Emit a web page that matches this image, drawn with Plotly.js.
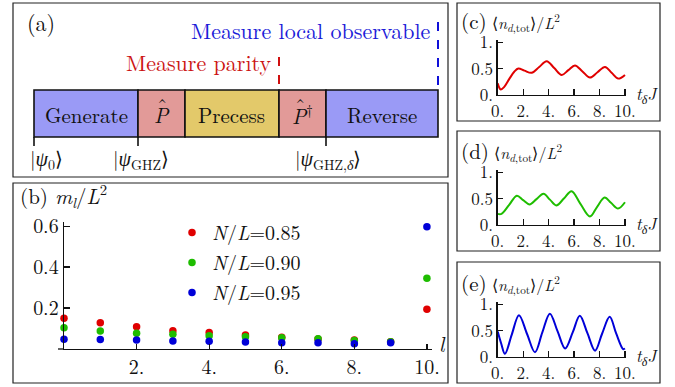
<!DOCTYPE html>
<html><head><meta charset="utf-8">
<script src="https://cdn.plot.ly/plotly-3.0.1.min.js"></script>
<style>body{margin:0;background:#fff}#c{width:675px;height:387px}</style>
</head><body><div id="c"></div>
<script>
// ---------- data ----------
const lValues = [0,1,2,3,4,5,6,7,8,9,10];
const m085 = [0.150,0.128,0.109,0.089,0.080,0.068,0.057,0.049,0.044,0.036,0.194];
const m090 = [0.104,0.088,0.077,0.072,0.065,0.060,0.055,0.050,0.042,0.036,0.345];
const m095 = [0.047,0.046,0.044,0.039,0.038,0.034,0.031,0.031,0.026,0.030,0.597];
const seriesNames = ['<i>N</i>/<i>L</i>=0.85','<i>N</i>/<i>L</i>=0.90','<i>N</i>/<i>L</i>=0.95'];
const bTickVals = [2,4,6,8,10];
const bTickText = ['2.','4.','6.','8.','10.'];
const bYTickVals = [0.2,0.4,0.6];
const bYTickText = ['0.2','0.4','0.6'];

const tC = [0,0.12,0.24,0.5,0.9,1.3,1.62,2.1,2.67,3.26,3.85,4.44,5.03,5.55,6.07,6.66,7.25,7.84,8.43,8.95,9.47,10];
const nC = [0.22,0.14,0.105,0.15,0.30,0.44,0.50,0.46,0.42,0.53,0.64,0.51,0.38,0.47,0.56,0.445,0.33,0.43,0.53,0.42,0.31,0.38];
const tD = [0,0.3,0.9,1.5,2.0,2.5,3.05,3.6,4.1,4.6,5.2,5.8,6.5,7.25,7.8,8.4,8.9,9.45,10];
const nD = [0.21,0.21,0.38,0.555,0.47,0.39,0.49,0.59,0.48,0.37,0.50,0.64,0.40,0.16,0.34,0.52,0.42,0.31,0.43];
const tE = [0,0.28,0.57,1.1,1.67,2.3,2.93,3.5,4.1,4.7,5.3,5.9,6.45,7.05,7.65,8.2,8.8,9.3,9.85,10];
const nE = [0.48,0.25,0.06,0.42,0.79,0.44,0.09,0.46,0.82,0.49,0.16,0.47,0.78,0.45,0.12,0.44,0.76,0.45,0.15,0.16];
const tTickVals = [0,2,4,6,8,10];
const tTickText = ['0.','2.','4.','6.','8.','10.'];
const nTickVals = [0,0.5,1];
const nTickText = ['0.','0.5','1.'];

const stageNames = ['Generate','<i>P</i>','Precess','<i>P</i><sup>†</sup>','Reverse'];
const stageHats = [false,true,false,true,false];
const stageColors = ['#9a9af6','#e29a98','#e3c96a','#e29a98','#9a9af6'];
const stateLabels = ['|<i>ψ</i><sub>0</sub>⟩','|<i>ψ</i><sub>GHZ</sub>⟩','|<i>ψ</i><sub>GHZ,<i>δ</i></sub>⟩'];

// ---------- layout helpers ----------
const W=675, H=387;
const px = x => x/W, py = y => 1 - y/H;
const FONT = 'Latin Modern Roman';
const RED='#e00000', GREEN='#1ebd00', BLUE='#0000d8';

const traces = [];
const cols=[RED,GREEN,BLUE], ms=[m085,m090,m095];
for(let i=0;i<3;i++){
  traces.push({x:lValues,y:ms[i],type:'scatter',mode:'markers',name:seriesNames[i],
    legendgroup:'g'+i, marker:{color:cols[i],size:7.5}, cliponaxis:false, xaxis:'x',yaxis:'y'});
}
traces.push({x:tC,y:nC,type:'scatter',mode:'lines',line:{color:RED,width:2,shape:'spline',smoothing:1},showlegend:false,xaxis:'x2',yaxis:'y2',cliponaxis:false});
traces.push({x:tD,y:nD,type:'scatter',mode:'lines',line:{color:GREEN,width:2,shape:'spline',smoothing:1},showlegend:false,xaxis:'x3',yaxis:'y3',cliponaxis:false});
traces.push({x:tE,y:nE,type:'scatter',mode:'lines',line:{color:BLUE,width:2,shape:'spline',smoothing:1},showlegend:false,xaxis:'x4',yaxis:'y4',cliponaxis:false});

function tAxis(anchor, dom){
  return {domain:dom, anchor:anchor, range:[0,10.08], showline:true, linecolor:'#111', linewidth:1.3,
    ticks:'inside', ticklen:6, tickwidth:1.2, tickcolor:'#111', tickvals:tTickVals, ticktext:tTickText,
    showgrid:false, zeroline:false, tickfont:{family:FONT,size:17,color:'#111'}, fixedrange:true};
}
function nAxis(anchor, dom){
  return {domain:dom, anchor:anchor, range:[0,1.04], showline:true, linecolor:'#111', linewidth:1.3,
    ticks:'inside', ticklen:5, tickwidth:1.2, tickcolor:'#111', tickvals:nTickVals, ticktext:nTickText,
    showgrid:false, zeroline:false, tickfont:{family:FONT,size:17,color:'#111'}, fixedrange:true};
}
const xDom = [px(497.7), px(626)];

const shapes = [];
const box = (x0,y0,x1,y1,extra) => Object.assign({type:'rect',xref:'paper',yref:'paper',x0:px(x0),x1:px(x1),y0:py(y1),y1:py(y0),line:{color:'#222',width:1.2}},extra||{});
// panel frames
shapes.push(box(13,3,448,177));
shapes.push(box(13,183,448,383));
shapes.push(box(457,3,660,121));
shapes.push(box(457,131,660,251));
shapes.push(box(457,262,660,383));
// diagram
const edges=[34,138,185,279,326,438];
for(let i=0;i<5;i++){
  shapes.push(box(edges[i],90,edges[i+1],137,{fillcolor:stageColors[i],line:{color:'#111',width:1.6},layer:'below'}));
}
[34,138,326].forEach(x=>shapes.push({type:'line',xref:'paper',yref:'paper',x0:px(x),x1:px(x),y0:py(137),y1:py(146),line:{color:'#111',width:1.6}}));
shapes.push({type:'line',xref:'paper',yref:'paper',x0:px(279),x1:px(279),y0:py(57),y1:py(90),line:{color:'#d01010',width:2,dash:'dash'}});
shapes.push({type:'line',xref:'paper',yref:'paper',x0:px(438),x1:px(438),y0:py(22),y1:py(90),line:{color:'#1010d8',width:2,dash:'dash'}});
// small stub of the (b) l-axis left of the origin
shapes.push({type:'line',xref:'paper',yref:'paper',x0:px(58),x1:px(64),y0:py(349),y1:py(349),line:{color:'#111',width:1.3}});

const ann = [];
const A = (text,x,y,size,xa,ya,color,extra) => ann.push(Object.assign({text:text,xref:'paper',yref:'paper',x:px(x),y:py(y),xanchor:xa||'left',yanchor:ya||'middle',showarrow:false,font:{family:FONT,size:size,color:color||'#111'}},extra||{}));
A('(a)',25,22,22);
A('Measure local observable',433,29,22,'right','middle','#1a1ad8');
A('Measure parity',273,62,22,'right','middle','#cc1414');
const centers=[86,161.5,232,302,382];
for(let i=0;i<5;i++){
  A(stageNames[i],centers[i],114,21,'center');
  if(stageHats[i]) A('ˆ',centers[i]-(i===3?2:-1),104.5,21,'center');
}
A(stateLabels[0],28,158,20);
A(stateLabels[1],111,158,20);
A(stateLabels[2],293,158,20);
A('(b) <i>m</i><sub><i>l</i></sub>/<i>L</i><sup>2</sup>',18,195,21);
A('<i>l</i>',437,343,21);
const lbl = (L,y)=>A('<span style="font-size:21px">('+L+')</span> ⟨<i>n</i><sub><i>d</i>,tot</sub>⟩/<i>L</i><sup>2</sup>',459,y,16);
lbl('c',20); lbl('d',150); lbl('e',282);
A('<i>t</i><sub><i>δ</i></sub><i>J</i>',634,94,17);
A('<i>t</i><sub><i>δ</i></sub><i>J</i>',634,224,17);
A('<i>t</i><sub><i>δ</i></sub><i>J</i>',634,356,17);

const layout = {
  width:W,height:H,margin:{l:0,r:0,t:0,b:0},paper_bgcolor:'#fff',plot_bgcolor:'rgba(0,0,0,0)',
  font:{family:FONT,color:'#111'},
  showlegend:true,
  legend:{x:px(172),y:py(213),xanchor:'left',yanchor:'top',bgcolor:'rgba(0,0,0,0)',font:{family:FONT,size:20,color:'#111'},tracegroupgap:1,itemwidth:30},
  xaxis:{domain:[px(64),px(432)],anchor:'y',range:[0,10.14],showline:true,linecolor:'#111',linewidth:1.3,
    ticks:'inside',ticklen:5,tickwidth:1.2,tickcolor:'#111',tickvals:bTickVals,ticktext:bTickText,showgrid:false,zeroline:false,
    tickfont:{family:FONT,size:20,color:'#111'},fixedrange:true},
  yaxis:{domain:[py(349),py(222)],anchor:'x',range:[0,0.62],showline:true,linecolor:'#111',linewidth:1.3,
    ticks:'inside',ticklen:6,tickwidth:1.2,tickcolor:'#111',tickvals:bYTickVals,ticktext:bYTickText,showgrid:false,zeroline:false,
    tickfont:{family:FONT,size:20,color:'#111'},fixedrange:true},
  xaxis2:tAxis('y2',xDom), yaxis2:nAxis('x2',[py(95),py(40)]),
  xaxis3:tAxis('y3',xDom), yaxis3:nAxis('x3',[py(225),py(170)]),
  xaxis4:tAxis('y4',xDom), yaxis4:nAxis('x4',[py(357),py(302)]),
  shapes:shapes, annotations:ann
};
Plotly.newPlot('c',traces,layout,{staticPlot:true,displayModeBar:false});
</script></body></html>
